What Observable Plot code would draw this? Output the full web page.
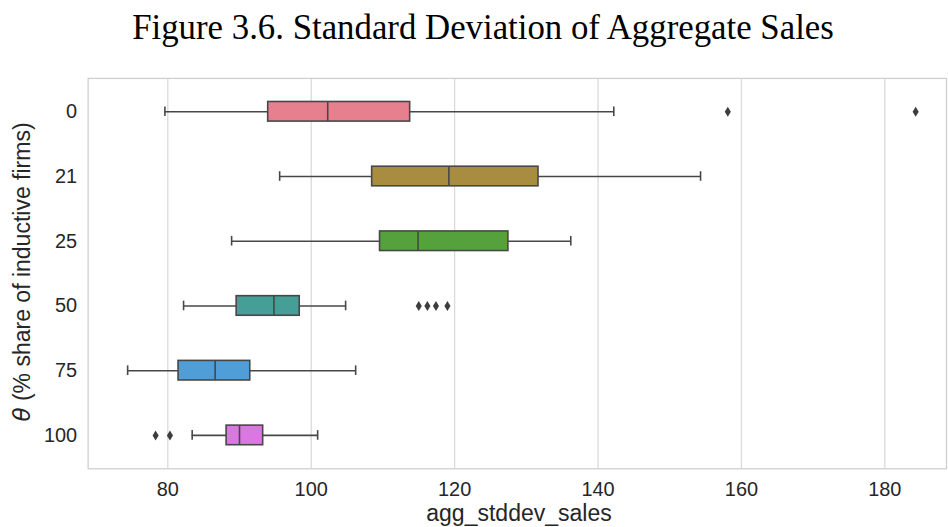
<!DOCTYPE html>
<html>
<head>
<meta charset="utf-8">
<script src="https://cdn.jsdelivr.net/npm/d3@7"></script>
<script src="https://cdn.jsdelivr.net/npm/@observablehq/plot@0.6"></script>
<style>
  html, body { margin: 0; padding: 0; background: #fff; overflow: hidden; }
  #wrap { position: relative; width: 948px; height: 527px; }
  #title { position: relative; left: 9px; height: 60px; width: 948px; text-align: center; font-family: "Liberation Serif", serif; font-size: 34.8px; line-height: 56px; color: #000; white-space: nowrap; }
  #ylabel { position: absolute; left: 22px; top: 272px; transform: translate(-50%, -50%) rotate(-90deg); white-space: nowrap; font-family: "Liberation Sans", Arial, sans-serif; font-size: 23px; color: #262626; }
  #ylabel i { font-family: "DejaVu Sans", sans-serif; font-style: italic; }
  #xlabel { position: absolute; left: 88px; width: 862px; top: 502px; line-height: 23px; text-align: center; font-family: "Liberation Sans", Arial, sans-serif; font-size: 23px; color: #262626; }
</style>
</head>
<body>
<div id="wrap">
  <div id="title">Figure 3.6. Standard Deviation of Aggregate Sales</div>
  <div id="chart"></div>
  <div id="ylabel"><i>θ</i> (% share of inductive firms)</div>
  <div id="xlabel">agg_stddev_sales</div>
</div>
<script>
// ---- data ----
const categories = ["0", "21", "25", "50", "75", "100"];
const lowWhisker = [79.6, 95.6, 88.9, 82.2, 74.4, 83.4];
const q1 = [94.0, 108.5, 109.6, 89.6, 81.5, 88.2];
const median = [102.3, 119.2, 114.9, 94.8, 86.6, 90.0];
const q3 = [113.8, 131.7, 127.5, 98.4, 91.5, 93.3];
const highWhisker = [142.2, 154.3, 136.2, 104.8, 106.2, 100.9];
const outlierCategory = ["0", "0", "50", "50", "50", "50", "100", "100"];
const outlierValue = [158.1, 184.3, 115.0, 116.2, 117.4, 119.0, 78.3, 80.3];
const colors = ["#e6808f", "#a88c40", "#55a23c", "#459f97", "#509ed8", "#db77e3"];
const xTicks = [80, 100, 120, 140, 160, 180];

// ---- build table ----
const boxes = categories.map((c, i) => ({
  cat: c, lo: lowWhisker[i], q1: q1[i], med: median[i], q3: q3[i], hi: highWhisker[i]
}));
const outliers = outlierCategory.map((c, i) => ({cat: c, v: outlierValue[i]}));

const edge = "#474747";
const bandH = 392 / 6;
const boxInset = (bandH - 20) / 2;
const capInset = (bandH - 10) / 2;

const thinDiamond = {
  draw(ctx, size) {
    const r = Math.sqrt(size / Math.PI);
    const h = r * 1.4, w = r * 0.85;
    ctx.moveTo(0, -h); ctx.lineTo(w, 0); ctx.lineTo(0, h); ctx.lineTo(-w, 0); ctx.closePath();
  }
};

const chart = Plot.plot({
  width: 952,
  height: 467,
  marginTop: 18,
  marginBottom: 57,
  marginLeft: 88,
  marginRight: 2,
  style: {fontFamily: "'Liberation Sans', Arial, sans-serif", fontSize: "20px", color: "#262626", background: "white"},
  x: {domain: [68.89, 188.6], ticks: xTicks, tickSize: 0, tickPadding: 13, label: null},
  y: {domain: categories, padding: 0, tickSize: 0, tickPadding: 11, label: null},
  color: {domain: categories, range: colors},
  marks: [
    Plot.ruleX(xTicks, {stroke: "#dadada", strokeWidth: 1.3}),
    Plot.frame({stroke: "#cfcfcf", strokeWidth: 1.3}),
    Plot.ruleY(boxes, {y: "cat", x1: "lo", x2: "q1", stroke: edge, strokeWidth: 1.6}),
    Plot.ruleY(boxes, {y: "cat", x1: "q3", x2: "hi", stroke: edge, strokeWidth: 1.6}),
    Plot.tickX(boxes, {y: "cat", x: "lo", stroke: edge, strokeWidth: 1.6, insetTop: capInset, insetBottom: capInset}),
    Plot.tickX(boxes, {y: "cat", x: "hi", stroke: edge, strokeWidth: 1.6, insetTop: capInset, insetBottom: capInset}),
    Plot.barX(boxes, {y: "cat", x1: "q1", x2: "q3", fill: "cat", stroke: edge, strokeWidth: 1.6, insetTop: boxInset, insetBottom: boxInset}),
    Plot.tickX(boxes, {y: "cat", x: "med", stroke: edge, strokeWidth: 1.6, insetTop: boxInset, insetBottom: boxInset}),
    Plot.dot(outliers, {y: "cat", x: "v", r: 3.6, symbol: thinDiamond, fill: "#3d3d3d", stroke: "none"})
  ]
});
document.getElementById("chart").appendChild(chart);
</script>
</body>
</html>
